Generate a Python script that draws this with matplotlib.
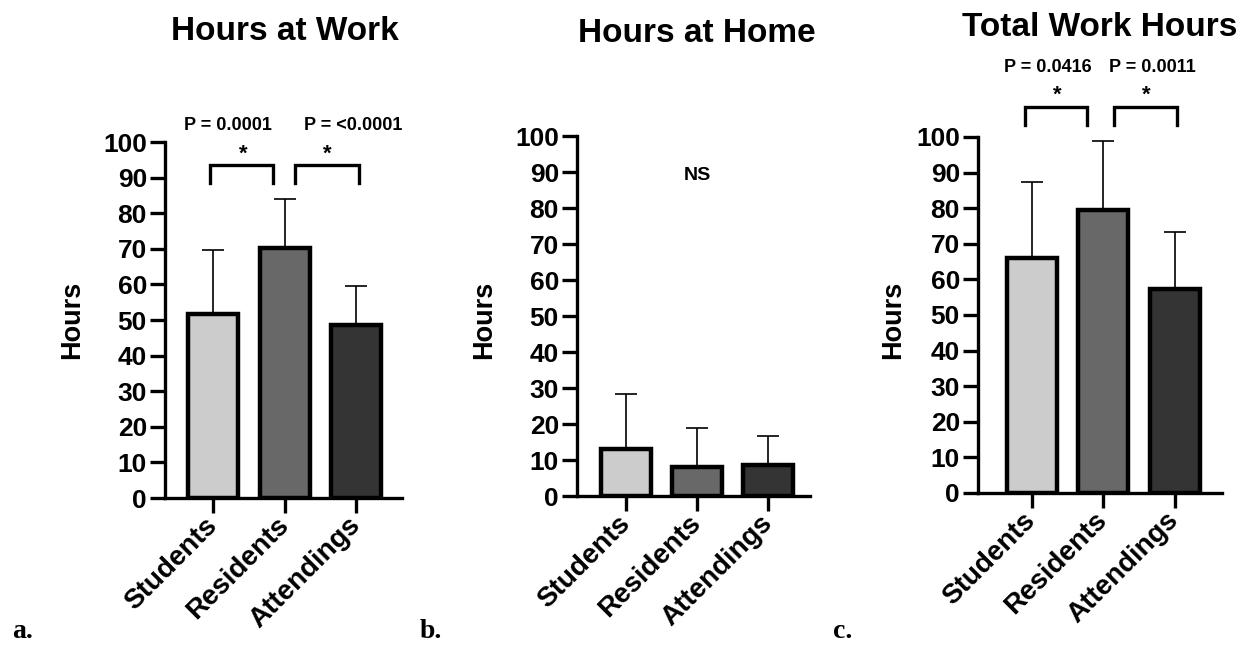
import matplotlib
matplotlib.use("Agg")
import matplotlib.pyplot as plt

plt.rcParams['font.family'] = ['Liberation Sans', 'DejaVu Sans']
plt.rcParams['font.weight'] = 'bold'

groups = ["Students", "Residents", "Attendings"]
colors = ["#cccccc", "#686868", "#343434"]

# mean and upper SD per panel
work_mean = [51.8, 70.3, 48.6]
work_sd = [18.0, 13.8, 11.0]
home_mean = [13.0, 8.0, 8.5]
home_sd = [15.2, 11.0, 8.3]
total_mean = [65.9, 79.4, 57.4]
total_sd = [21.5, 19.5, 16.0]

titles = ["Hours at Work", "Hours at Home", "Total Work Hours"]
letters = ["a.", "b.", "c."]

# significance: (x1, x2, bracket top, star x, p text x, p text)
work_sig = [(-0.04, 0.84, 93.5, 0.42, 0.21, "P = 0.0001"),
            (1.15, 2.04, 93.5, 1.60, 1.96, "P = <0.0001")]
total_sig = [(-0.10, 0.77, 108.5, 0.36, 0.22, "P = 0.0416"),
             (1.15, 2.03, 108.5, 1.60, 1.69, "P = 0.0011")]

fig = plt.figure(figsize=(12.5, 6.45), dpi=100)

# axes boxes in pixels: left, right, y0, y100, xlim
boxes = [(165, 402, 498, 142, (-0.67, 2.64)),
         (577, 810, 496, 136, (-0.69, 2.59)),
         (978, 1222, 493, 137, (-0.75, 2.66))]
title_pos = [(285, 31), (697, 33), (1100, 28)]
ylabel_x = [72, 484, 893]
letter_x = [12, 420, 833]

means = [work_mean, home_mean, total_mean]
sds = [work_sd, home_sd, total_sd]
sigs = [work_sig, None, total_sig]

W, H = 1250, 645
for i in range(3):
    l, r, y0, y1, xl = boxes[i]
    ax = fig.add_axes([l / W, 1 - y0 / H, (r - l) / W, (y0 - y1) / H])
    x = list(range(3))
    ax.errorbar(x, means[i], yerr=[[0, 0, 0], sds[i]], fmt="none",
                ecolor="black", elinewidth=1.2, capsize=8, capthick=1.2, zorder=1)
    ax.bar(x, means[i], width=0.7, color=colors, edgecolor="black",
           linewidth=3.2, zorder=2)
    ax.set_xlim(*xl)
    ax.set_ylim(0, 100)
    ax.set_yticks(range(0, 101, 10))
    ax.set_xticks(x)
    ax.set_xticklabels(groups, rotation=45, ha="right", va="center",
                       rotation_mode="anchor", fontsize=20, fontweight="bold")
    for s in ["top", "right"]:
        ax.spines[s].set_visible(False)
    for s in ["left", "bottom"]:
        ax.spines[s].set_linewidth(2.4)
    ax.tick_params(axis="y", labelsize=19, width=2.4, length=11, pad=2)
    ax.tick_params(axis="x", width=2.4, length=11, pad=6)
    for lab in ax.get_yticklabels():
        lab.set_fontweight("bold")
    fig.text(ylabel_x[i] / W, 1 - 320 / H, "Hours", rotation=90, ha="center",
             va="center", fontsize=19.5, fontweight="bold")
    fig.text(title_pos[i][0] / W, 1 - title_pos[i][1] / H, titles[i],
             ha="center", va="center", fontsize=24, fontweight="bold")
    fig.text(letter_x[i] / W, 1 - 632 / H, letters[i], ha="left", va="center",
             fontsize=20, fontweight="bold",
             family=["Liberation Serif", "DejaVu Serif"])
    if sigs[i] is not None:
        for x1, x2, top, sx, px, ptxt in sigs[i]:
            ax.plot([x1, x1, x2, x2], [top - 5, top, top, top - 5], color="black",
                    lw=2.4, clip_on=False, solid_joinstyle="miter")
            ax.text(sx, top + 0.2, "*", ha="center", va="bottom", fontsize=16,
                    fontweight="bold", clip_on=False)
            ax.text(px, top + 11, ptxt, ha="center", va="center", fontsize=13,
                    fontweight="bold", clip_on=False)
    else:
        ax.text(1.0, 89, "NS", ha="center", va="center", fontsize=14,
                fontweight="bold")

fig.savefig("out.png", dpi=100)
